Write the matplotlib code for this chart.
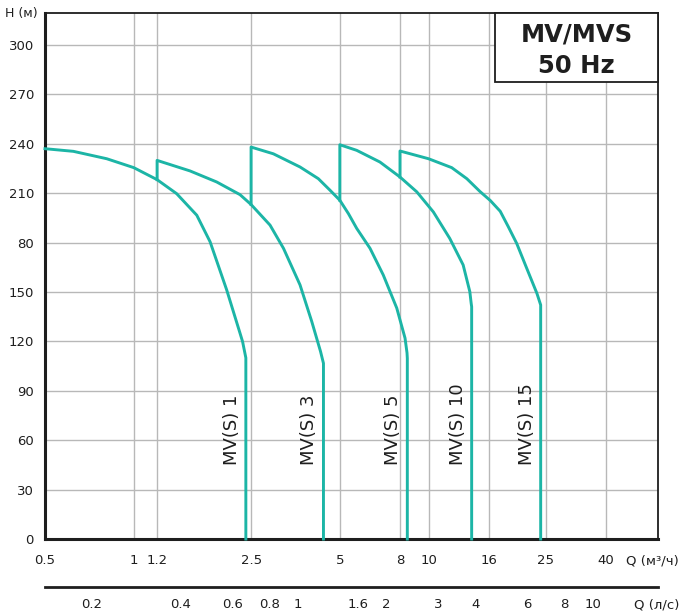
"""MV/MVS 50 Hz pump family curves: head H vs flow Q (log Q axis)."""
import matplotlib
matplotlib.use("Agg")
import matplotlib.pyplot as plt
from matplotlib.patches import Rectangle
from matplotlib.ticker import FixedLocator, FixedFormatter, NullLocator

TEAL = "#1cb5a6"
GRID = "#b8b8b8"
INK = "#1e1e1e"

# Q in m3/h, H in m; each curve ends in a vertical drop
MV1_Q = [0.5, 0.624, 0.81, 1.0, 1.2, 1.398, 1.636, 1.815, 2.066, 2.293, 2.34,
         2.40, 2.40]
MV1_H = [237.0, 235.4, 230.9, 225.5, 218.2, 209.7, 196.6, 180.5, 151.3, 125.0,
         119.8, 110.0, 0]

MV3_Q = [1.2, 1.2, 1.552, 1.911, 2.293, 2.5, 2.899, 3.22, 3.664, 4.015, 4.30,
         4.40, 4.40]
MV3_H = [218.2, 229.9, 223.5, 216.8, 209.1, 203.1, 190.6, 176.5, 154.3, 132.1,
         113.9, 106.7, 0]

MV5_Q = [2.5, 2.5, 2.975, 3.664, 4.227, 4.63, 5.0, 5.35, 5.705, 6.33, 7.02, 7.80,
         8.32, 8.45, 8.47, 8.47]
MV5_H = [203.1, 238.0, 233.9, 225.9, 218.8, 211.8, 205.7, 197.5, 188.6, 176.5,
         160.3, 140.2, 122.0, 113.0, 109.7, 0]

MV10_Q = [5.0, 5.0, 5.705, 6.84, 8.0, 9.12, 10.38, 11.8, 13.1, 13.8, 13.95,
          14.0, 14.0]
MV10_H = [205.7, 239.4, 236.0, 228.9, 219.8, 210.8, 198.6, 182.5, 166.4, 150.2,
          143.0, 141.0, 0]

MV15_Q = [8.0, 8.0, 10.0, 11.98, 13.48, 14.94, 16.2, 17.5, 18.64, 19.9, 21.52,
          23.3, 24.0, 24.0]
MV15_H = [219.8, 235.6, 230.9, 225.5, 218.8, 211.0, 205.5, 199.0, 189.6, 179.5,
          164.4, 149.2, 142.1, 0]

CURVES = [("MV(S) 1", MV1_Q, MV1_H), ("MV(S) 3", MV3_Q, MV3_H),
          ("MV(S) 5", MV5_Q, MV5_H), ("MV(S) 10", MV10_Q, MV10_H),
          ("MV(S) 15", MV15_Q, MV15_H)]
LABEL_H = 45  # bottom of the rotated model labels

Q_TICKS = [0.5, 1, 1.2, 2.5, 5, 8, 10, 16, 25, 40]
Q_LABELS = ["0.5", "1", "1.2", "2.5", "5", "8", "10", "16", "25", "40"]
LS_TICKS = [0.2, 0.4, 0.6, 0.8, 1, 1.6, 2, 3, 4, 6, 8, 10]
LS_LABELS = ["0.2", "0.4", "0.6", "0.8", "1", "1.6", "2", "3", "4", "6", "8", "10"]
H_TICKS = [0, 30, 60, 90, 120, 150, 180, 210, 240, 270, 300]
H_LABELS = ["0", "30", "60", "90", "120", "150", "80", "210", "240", "270", "300"]


def main():
    plt.rcParams["font.family"] = ["DejaVu Sans"]
    fig = plt.figure(figsize=(6.81, 6.13), dpi=100)
    ax = fig.add_axes([45 / 681, 1 - 539 / 613, 613 / 681, 526 / 613])

    ax.set_xscale("log")
    ax.set_xlim(0.5, 60)
    ax.set_ylim(0, 319.4)

    ax.xaxis.set_major_locator(FixedLocator(Q_TICKS))
    ax.xaxis.set_major_formatter(FixedFormatter(Q_LABELS))
    ax.xaxis.set_minor_locator(NullLocator())
    ax.set_yticks(H_TICKS)
    ax.set_yticklabels(H_LABELS)
    ax.tick_params(length=0, labelsize=9.5, colors=INK)
    ax.tick_params(axis="x", pad=11)
    ax.tick_params(axis="y", pad=8)
    ax.grid(True, color=GRID, linewidth=1.0, zorder=0)

    for side in ("left", "bottom"):
        ax.spines[side].set_linewidth(2.2)
        ax.spines[side].set_color(INK)
    for side in ("top", "right"):
        ax.spines[side].set_linewidth(1.3)
        ax.spines[side].set_color(INK)

    for name, q, h in CURVES:
        ax.plot(q, h, color=TEAL, linewidth=2.1, zorder=3,
                solid_joinstyle="round", clip_on=False)
        ax.annotate(name, xy=(q[-1], LABEL_H), xytext=(-14, 0),
                    textcoords="offset pixels", rotation=90,
                    ha="center", va="bottom", fontsize=13, color=INK)

    # title box in the top-right corner
    box = Rectangle(((495 - 45) / 613, 1 - 69 / 526), (658 - 495) / 613, 69 / 526,
                    transform=ax.transAxes, facecolor="white",
                    edgecolor=INK, linewidth=1.3, zorder=4, clip_on=False)
    ax.add_patch(box)
    bx = ((495 + 658) / 2 - 45) / 613
    ax.text(bx, 1 - 22 / 526, "MV/MVS", transform=ax.transAxes, ha="center",
            va="center", fontsize=17.5, fontweight="bold", color=INK, zorder=5)
    ax.text(bx, 1 - 53 / 526, "50 Hz", transform=ax.transAxes, ha="center",
            va="center", fontsize=17.5, fontweight="bold", color=INK, zorder=5)

    # axis captions
    ax.text(-7 / 613, 1 - 1 / 526, "H (м)", transform=ax.transAxes,
            ha="right", va="center", fontsize=9, color=INK)
    fig.text(679 / 681, 1 - 561 / 613, "Q (м³/ч)", ha="right", va="center",
             fontsize=9.5, color=INK)
    fig.text(679 / 681, 1 - 605 / 613, "Q (л/с)", ha="right", va="center",
             fontsize=9.5, color=INK)

    # second flow scale in l/s below the chart
    sec = ax.secondary_xaxis(-48 / 526, functions=(lambda q: q / 3.6,
                                                     lambda l: l * 3.6))
    sec.xaxis.set_major_locator(FixedLocator(LS_TICKS))
    sec.xaxis.set_major_formatter(FixedFormatter(LS_LABELS))
    sec.xaxis.set_minor_locator(NullLocator())
    sec.tick_params(length=0, labelsize=9.5, colors=INK, pad=8)
    sec.spines["bottom"].set_linewidth(2.0)
    sec.spines["bottom"].set_color(INK)

    fig.savefig("out.png", dpi=100)
    plt.close(fig)


if __name__ == "__main__":
    main()
